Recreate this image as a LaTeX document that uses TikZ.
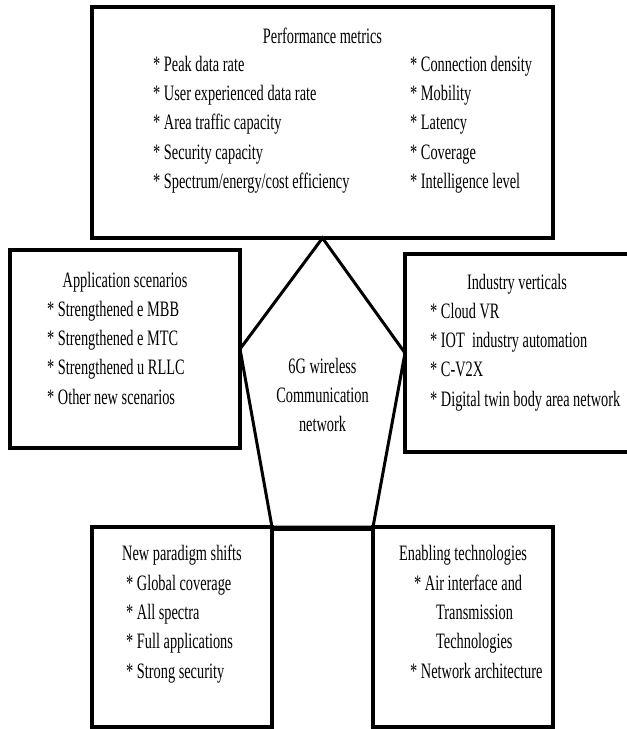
\documentclass[tikz,border=0pt]{standalone}
\usepackage{fontspec}
\setmainfont{Liberation Serif}[FakeStretch=0.652]
\usetikzlibrary{positioning}
\tikzset{
  panel/.style={draw, line width=3.5pt, outer sep=0pt, inner sep=0pt},
  side/.style={line width=3pt, line join=miter},
  boxtitle/.style={inner sep=0pt, anchor=north, font=\fontsize{22}{29.3}\selectfont},
  boxtext/.style={inner sep=0pt, align=left, font=\fontsize{22}{29.3}\selectfont}
}

\begin{document}
\begin{tikzpicture}[line cap=butt,line join=miter,x=1pt,y=-1pt]
\useasboundingbox (0,0) rectangle (627,729);
% the five boxes
\node[panel, minimum width=461pt, minimum height=231pt] (perf) at (322.5,122.5) {};
\node[panel, minimum width=230pt, minimum height=198pt] (app) at (125,349) {};
\node[panel, minimum width=224pt, minimum height=198pt] (ind) at (517,353) {};
\node[panel, minimum width=180pt, minimum height=200pt] (shift) at (182,627) {};
\node[panel, minimum width=180pt, minimum height=200pt] (tech) at (463,627) {};
%
% performance metrics
\node[boxtitle, below=15.5pt of perf.north] (perftitle) {\strut Performance metrics};
\node[boxtext, below right=43.5pt and 61pt of perf.north west] (perfleft)
  {\strut* Peak data rate\\* User experienced data rate\\* Area traffic capacity\\* Security capacity\\* Spectrum/energy/cost efficiency};
\node[boxtext, below right=43.5pt and 318pt of perf.north west] (perfright)
  {\strut* Connection density\\* Mobility\\* Latency\\* Coverage\\* Intelligence level};
%
% application scenarios
\node[boxtitle, below=16.5pt of app.north] (apptitle) {\strut Application scenarios};
\node[boxtext, below right=45.5pt and 37pt of app.north west] (applist)
  {\strut* Strengthened e MBB\\* Strengthened e MTC\\* Strengthened u RLLC\\* Other new scenarios};
%
% industry verticals
\node[boxtitle, below=14.5pt of ind.north] (indtitle) {\strut Industry verticals};
\node[boxtext, below right=43.5pt and 25pt of ind.north west] (indlist)
  {\strut* Cloud VR\\* IOT\ \ industry automation\\* C-V2X\\* Digital twin body area network};
%
% new paradigm shifts
\node[boxtitle, below=12.5pt of shift.north] (shifttitle) {\strut New paradigm shifts};
\node[boxtext, below right=42.5pt and 34pt of shift.north west] (shiftlist)
  {\strut* Global coverage\\* All spectra\\* Full applications\\* Strong security};
%
% enabling technologies
\node[boxtitle, below=12.5pt of tech.north] (techtitle) {\strut Enabling technologies};
\node[boxtext, below right=42.5pt and 37pt of tech.north west] (techlist)
  {\strut\hspace*{4pt}* Air interface and\\\hspace*{26pt}Transmission\\\hspace*{26pt}Technologies\\* Network architecture};
%
% the pentagon in the middle
\draw[side] (perf.south) -- (ind.west) -- (tech.north west) -- (shift.north east) -- (app.east) -- cycle;
\draw[line width=4pt] ([yshift=-2pt]shift.north east) -- ([yshift=-2pt]tech.north west);
\node[boxtext, align=center, anchor=north, below=114.5pt of perf.south] (core)
  {\strut 6G wireless\\Communication\\network};
\end{tikzpicture}
\end{document}
